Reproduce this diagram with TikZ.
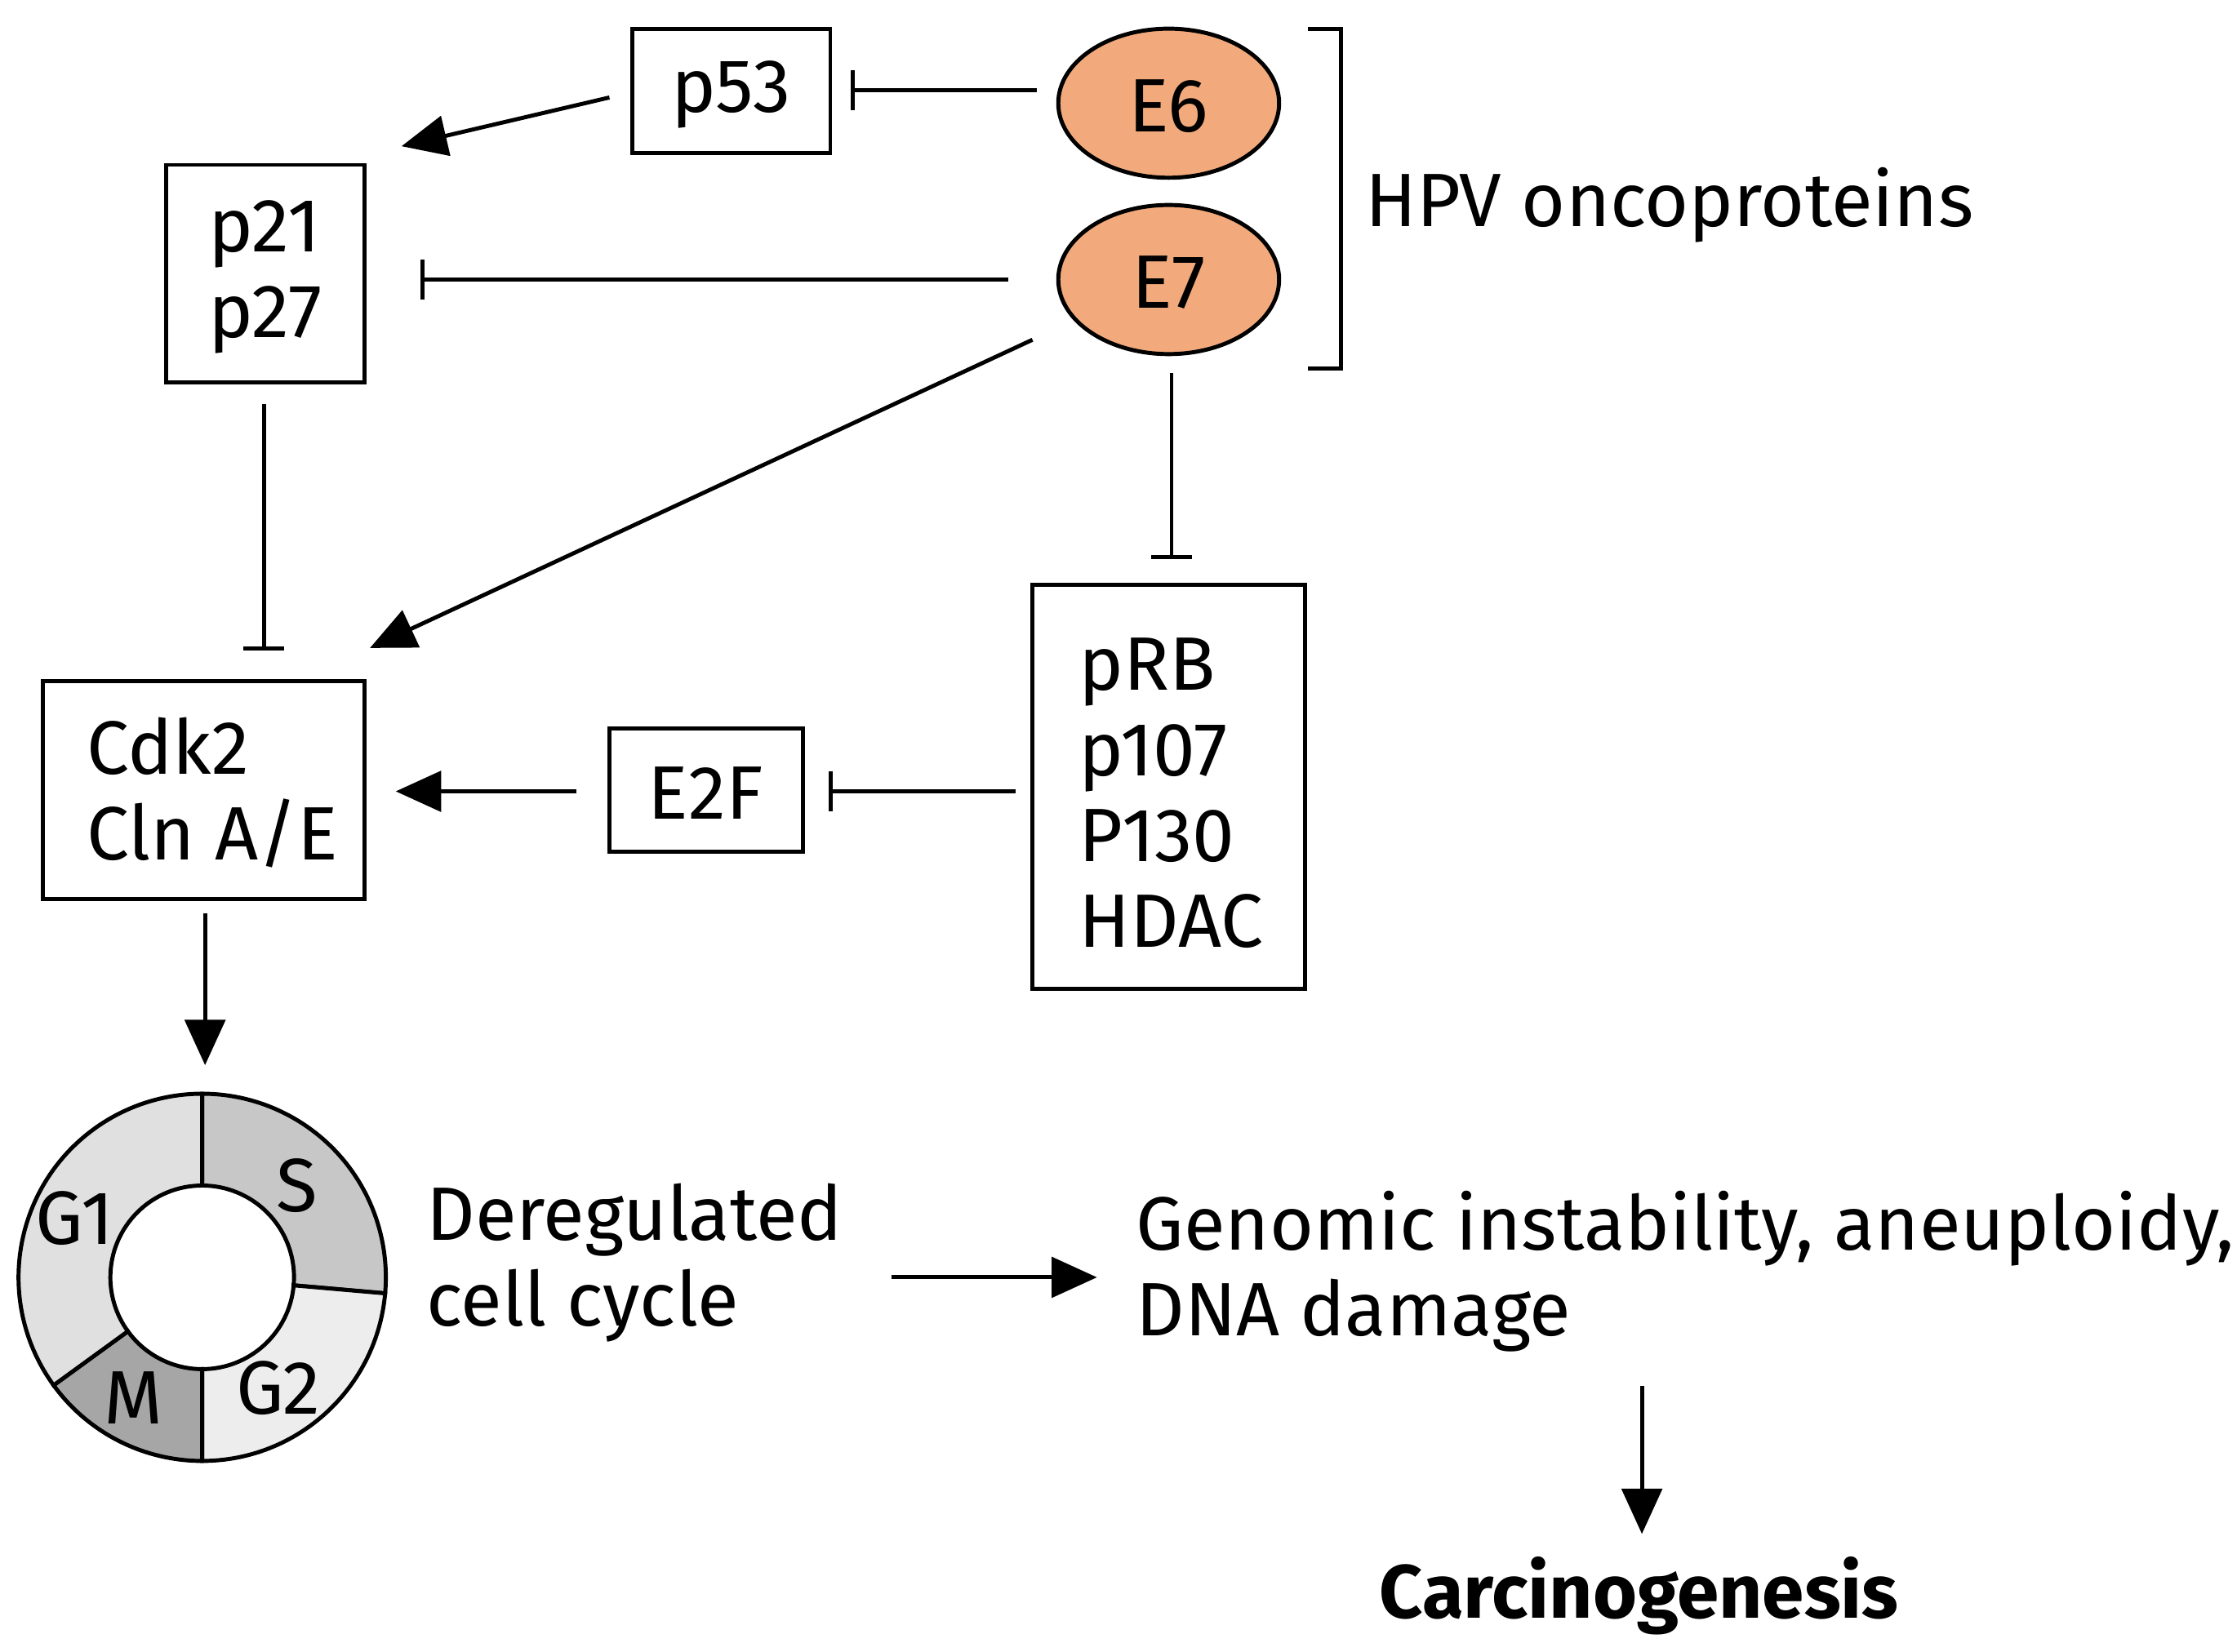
\documentclass[tikz,border=0pt]{standalone}
\usepackage{fontspec}
\setmainfont{Fira Sans}
\usetikzlibrary{arrows.meta}
\definecolor{eor}{HTML}{F2AA7C}
\begin{document}
\begin{tikzpicture}[x=0.01cm,y=-0.01cm,
  box/.style={draw,line width=0.8pt,inner sep=0pt},
  txt/.style={font=\fontsize{15}{18}\selectfont},
  ar/.style={line width=0.8pt,-{Triangle[length=9pt,width=8pt]}},
  inh/.style={line width=0.8pt,-{Bar[width=8pt]}},
  sec/.style={draw=black,line width=0.8pt}]
\useasboundingbox (0,0) rectangle (1560,1152);
% boxes
\draw[box] (441,20) rectangle (579,107); \node[txt] (p53) at (510,66) {p53};
\draw[box] (116,115) rectangle (254,267);
\node[txt,align=left] (p21) at (185,193) {p21\\[-1pt]p27};
\draw[box] (30,475) rectangle (254,627);
\node[txt,align=left,anchor=west] (cdk) at (48,553) {Cdk2\\[-1pt]Cln A/E};
\draw[box] (425,508) rectangle (560,594); \node[txt] (e2f) at (492,553) {E2F};
\draw[box] (720,408) rectangle (910,690);
\node[txt,align=left,anchor=west] (prb) at (740,553) {pRB\\[-1pt]p107\\[-1pt]P130\\[-1pt]HDAC};
% ellipses
\draw[line width=0.8pt,fill=eor] (815,72) ellipse [x radius=77,y radius=52];
\node[txt] (e6) at (815,74) {E6};
\draw[line width=0.8pt,fill=eor] (815,195) ellipse [x radius=77,y radius=52];
\node[txt] (e7) at (815,197) {E7};
% bracket
\draw[line width=0.8pt] (912,20) -- (935,20) -- (935,257) -- (912,257);
\node[txt,anchor=west] (hpv) at (940,143) {HPV oncoproteins};
% endpoints
\coordinate (a1) at (425,68); \coordinate (a2) at (280,102);
\coordinate (b1) at (723,63); \coordinate (b2) at (593,63);
\coordinate (c1) at (703,195); \coordinate (c2) at (293,195);
\coordinate (d1) at (720,237); \coordinate (d2) at (258,452);
\coordinate (e1) at (817,260); \coordinate (e2) at (817,390);
\coordinate (f1) at (184,282); \coordinate (f2) at (184,454);
\coordinate (g1) at (708,552); \coordinate (g2) at (578,552);
\coordinate (h1) at (402,552); \coordinate (h2) at (276,552);
\coordinate (i1) at (143,637); \coordinate (i2) at (143,743);
\coordinate (j1) at (622,891); \coordinate (j2) at (765,891);
\coordinate (k1) at (1145,967); \coordinate (k2) at (1145,1070);
\draw[ar] (a1) -- (a2);
\draw[inh] (b1) -- (b2);
\draw[inh] (c1) -- (c2);
\draw[ar] (d1) -- (d2);
\draw[inh] (e1) -- (e2);
\draw[inh] (f1) -- (f2);
\draw[inh] (g1) -- (g2);
\draw[ar] (h1) -- (h2);
\draw[ar] (i1) -- (i2);
\draw[ar] (j1) -- (j2);
\draw[ar] (k1) -- (k2);
% cell cycle
\begin{scope}[shift={(141,891)},x=1cm,y=1cm]
\fill[sec,fill=black!22] (90:0.64) -- (90:1.28) arc[start angle=90,end angle=-5,radius=1.28] -- (-5:0.64) arc[start angle=-5,end angle=90,radius=0.64] -- cycle;
\fill[sec,fill=black!7] (-5:0.64) -- (-5:1.28) arc[start angle=-5,end angle=-90,radius=1.28] -- (-90:0.64) arc[start angle=-90,end angle=-5,radius=0.64] -- cycle;
\fill[sec,fill=black!35] (-90:0.64) -- (-90:1.28) arc[start angle=-90,end angle=-144,radius=1.28] -- (-144:0.64) arc[start angle=-144,end angle=-90,radius=0.64] -- cycle;
\fill[sec,fill=black!12] (-144:0.64) -- (-144:1.28) arc[start angle=-144,end angle=-270,radius=1.28] -- (90:0.64) arc[start angle=90,end angle=216,radius=0.64] -- cycle;
\end{scope}
\node[txt] (g1) at (52,850) {G1};
\node[txt] (s) at (207,827) {S};
\node[txt] (g2) at (194,968) {G2};
\node[txt] (m) at (93,975) {M};
\node[txt,align=left,anchor=west] (dc) at (285,881) {Deregulated\\[-1pt]cell cycle};
\node[txt,align=left,anchor=west] (gi) at (780,887) {Genomic instability, aneuploidy,\\[-1pt]DNA damage};
\node[txt,font=\fontsize{15}{18}\selectfont\bfseries] (car) at (1143,1113) {Carcinogenesis};
\end{tikzpicture}
\end{document}
